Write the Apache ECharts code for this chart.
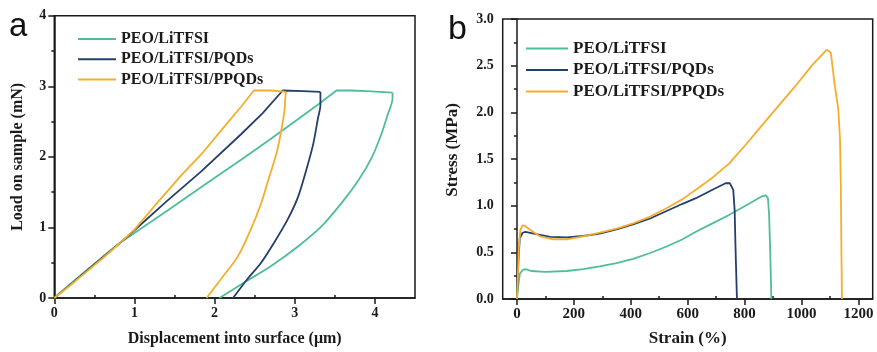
<!DOCTYPE html>
<html>
<head>
<meta charset="utf-8">
<script src="https://cdn.jsdelivr.net/npm/echarts@6/dist/echarts.min.js"></script>
<style>
html,body{margin:0;padding:0;background:#fff;}
#chart{width:877px;height:352px;}
</style>
</head>
<body>
<div id="chart"></div>
<script>
// ---------- DATA ----------
const seriesNames = ['PEO/LiTFSI', 'PEO/LiTFSI/PQDs', 'PEO/LiTFSI/PPQDs'];

// Panel a: load (mN) vs displacement (µm) — [x, y]; loading + hold, then unloading
const indentLiTFSILoad = [
  [0,0],[0.2,0.2],[0.4,0.39],[0.6,0.58],[0.78,0.75],[1.0,0.92],[1.4,1.23],[1.83,1.57],
  [2.33,1.96],[2.66,2.22],[3.0,2.5],[3.3,2.75],[3.52,2.94],
  [3.7,2.94],[3.9,2.93],[4.22,2.91]
];
const indentLiTFSIUnload = [
  [4.22,2.91],[4.22,2.83],[4.16,2.60],[4.08,2.32],[3.96,1.99],[3.79,1.66],[3.58,1.34],[3.33,1.01],
  [3.04,0.73],[2.70,0.45],[2.37,0.22],[2.06,0]
];
const indentPQDsLoad = [
  [0,0],[0.2,0.19],[0.4,0.38],[0.6,0.57],[0.8,0.76],[1.0,0.96],[1.4,1.37],[1.83,1.79],
  [2.33,2.32],[2.6,2.62],[2.85,2.94],
  [3.1,2.93],[3.32,2.92]
];
const indentPQDsUnload = [
  [3.32,2.92],[3.32,2.73],[3.29,2.55],[3.23,2.18],[3.14,1.80],[3.04,1.43],[2.91,1.11],[2.74,0.78],
  [2.58,0.50],[2.41,0.27],[2.23,0]
];
const indentPPQDsLoad = [
  [0,0],[0.2,0.18],[0.4,0.37],[0.6,0.56],[0.8,0.76],[1.0,0.97],[1.3,1.37],[1.6,1.76],
  [1.83,2.03],[2.1,2.4],[2.33,2.71],[2.49,2.94],
  [2.7,2.94],[2.89,2.92]
];
const indentPPQDsUnload = [
  [2.89,2.92],[2.88,2.80],[2.87,2.64],[2.83,2.36],[2.77,2.04],[2.68,1.71],[2.58,1.34],[2.45,0.97],
  [2.29,0.59],[2.08,0.27],[1.90,0]
];

// Panel b: stress (MPa) vs strain (%) — [x, y]
const tensileLiTFSI = [
  [0,0],[5,0.15],[10,0.27],[20,0.31],[30,0.32],[50,0.30],[100,0.29],[175,0.30],[233,0.32],
  [291,0.35],[350,0.385],[408,0.43],[466,0.49],[524,0.56],[582,0.64],[629,0.72],[687,0.81],
  [745,0.90],[803,1.0],[861,1.10],[875,1.11],[882,1.08],[886,0.9],[890,0.5],[894,0]
];
const tensilePQDs = [
  [0,0],[5,0.4],[10,0.65],[20,0.71],[30,0.72],[59,0.70],[117,0.665],[175,0.66],[233,0.675],
  [291,0.70],[350,0.745],[408,0.80],[466,0.86],[524,0.94],[582,1.02],[629,1.08],[687,1.17],
  [733,1.24],[748,1.24],[760,1.17],[765,0.95],[768,0.55],[773,0]
];
const tensilePPQDs = [
  [0,0],[4,0.3],[7,0.55],[12,0.74],[20,0.79],[30,0.78],[47,0.74],[82,0.67],[128,0.64],
  [175,0.64],[233,0.67],[291,0.71],[350,0.755],[408,0.81],[466,0.88],[524,0.97],[582,1.07],
  [629,1.17],[687,1.30],[745,1.45],[803,1.65],[861,1.86],[919,2.07],[978,2.28],[1036,2.50],
  [1088,2.67],[1103,2.64],[1117,2.28],[1129,2.04],[1135,1.72],[1138,1.23],[1140,0.53],[1142,0]
];

// Tick values
const aXTicks = [0, 1, 2, 3, 4];
const aXMinor = [0.5, 1.5, 2.5, 3.5];
const bXTicks = [0, 200, 400, 600, 800, 1000, 1200];
const bXMinor = [100, 300, 500, 700, 900, 1100];

// ---------- STYLE ----------
const colors = ['#4dbd9a', '#243f6c', '#f4ae2c'];
const serif = "'Liberation Serif','Times New Roman',serif";
const ink = '#1a1a1a';

function lineSeries(name, data, idx, color, smooth) {
  return {
    name, type: 'line', data, xAxisIndex: idx, yAxisIndex: idx,
    symbol: 'none', smooth: smooth, animation: false,
    lineStyle: { color, width: 1.8 }, itemStyle: { color }
  };
}

const axisLineStyle = { show: true, lineStyle: { color: ink, width: 1.5 } };

const option = {
  animation: false,
  backgroundColor: '#fff',
  grid: [
    { left: 54.3, top: 15.7, width: 360.7, height: 286.8, show: true, borderColor: ink, borderWidth: 1.5 },
    { left: 502.7, top: 19, width: 370, height: 284.3, show: true, borderColor: ink, borderWidth: 1.5 }
  ],
  graphic: [
    { type: 'text', left: 9, top: 10, style: { text: 'a', fontSize: 33, fontFamily: "'Liberation Sans',Arial,sans-serif", fill: '#111' } },
    { type: 'text', left: 448, top: 13, style: { text: 'b', fontSize: 34, fontFamily: "'Liberation Sans',Arial,sans-serif", fill: '#111' } }
  ],
  legend: [
    {
      data: seriesNames, orient: 'vertical', left: 78, top: 31, padding: 0,
      icon: 'rect', itemWidth: 38, itemHeight: 2, itemGap: 4.3,
      textStyle: { fontFamily: serif, fontWeight: 'bold', fontSize: 16, lineHeight: 16, color: ink }
    },
    {
      data: seriesNames, orient: 'vertical', left: 526, top: 40, padding: 0,
      icon: 'rect', itemWidth: 42, itemHeight: 2.2, itemGap: 4.5,
      textStyle: { fontFamily: serif, fontWeight: 'bold', fontSize: 17, lineHeight: 17, color: ink }
    }
  ],
  xAxis: [
    {
      gridIndex: 0, type: 'value', min: 0, max: 4.5,
      name: 'Displacement into surface (μm)', nameLocation: 'middle', nameGap: 33,
      nameTextStyle: { fontFamily: serif, fontWeight: 'bold', fontSize: 16, color: ink },
      axisLine: axisLineStyle,
      axisTick: { show: true, inside: false, length: 6, customValues: aXTicks, lineStyle: { color: ink, width: 1.5 } },
      axisLabel: { customValues: aXTicks, margin: 8, fontFamily: serif, fontWeight: 'bold', fontSize: 14, color: ink },
      splitLine: { show: false }
    },
    {
      gridIndex: 0, type: 'value', min: 0, max: 4.5,
      axisLine: { show: false },
      axisTick: { show: true, inside: false, length: 3, customValues: aXMinor, lineStyle: { color: ink, width: 1.5 } },
      axisLabel: { show: false }, splitLine: { show: false }
    },
    {
      gridIndex: 1, type: 'value', min: -50, max: 1250,
      name: 'Strain (%)', nameLocation: 'middle', nameGap: 31,
      nameTextStyle: { fontFamily: serif, fontWeight: 'bold', fontSize: 17, color: ink },
      axisLine: axisLineStyle,
      axisTick: { show: true, inside: false, length: 6, customValues: bXTicks, lineStyle: { color: ink, width: 1.5 } },
      axisLabel: { customValues: bXTicks, margin: 8, fontFamily: serif, fontWeight: 'bold', fontSize: 15, color: ink,
                   formatter: v => String(v) },
      splitLine: { show: false }
    },
    {
      gridIndex: 1, type: 'value', min: -50, max: 1250,
      axisLine: { show: false },
      axisTick: { show: true, inside: false, length: 3, customValues: bXMinor, lineStyle: { color: ink, width: 1.5 } },
      axisLabel: { show: false }, splitLine: { show: false }
    }
  ],
  yAxis: [
    {
      gridIndex: 0, type: 'value', min: 0, max: 4, interval: 1,
      name: 'Load on sample (mN)', nameLocation: 'middle', nameGap: 28,
      nameTextStyle: { fontFamily: serif, fontWeight: 'bold', fontSize: 16, color: ink },
      axisLine: axisLineStyle,
      axisTick: { show: true, inside: false, length: 6, lineStyle: { color: ink, width: 1.5 } },
      minorTick: { show: true, splitNumber: 2, length: 3, lineStyle: { color: ink, width: 1.5 } },
      axisLabel: { margin: 8, fontFamily: serif, fontWeight: 'bold', fontSize: 14, color: ink },
      splitLine: { show: false }, minorSplitLine: { show: false }
    },
    {
      gridIndex: 0, type: 'value', min: 0, max: 4, interval: 1, show: false
    },
    {
      gridIndex: 1, type: 'value', min: 0, max: 3, interval: 0.5,
      name: 'Stress (MPa)', nameLocation: 'middle', nameGap: 42,
      nameTextStyle: { fontFamily: serif, fontWeight: 'bold', fontSize: 17, color: ink, padding: [0, 0, 0, 18] },
      axisLine: axisLineStyle,
      axisTick: { show: true, inside: false, length: 6, lineStyle: { color: ink, width: 1.5 } },
      minorTick: { show: true, splitNumber: 2, length: 3, lineStyle: { color: ink, width: 1.5 } },
      axisLabel: { margin: 9, fontFamily: serif, fontWeight: 'bold', fontSize: 14, color: ink,
                   formatter: v => v.toFixed(1) },
      splitLine: { show: false }, minorSplitLine: { show: false }
    },
    {
      gridIndex: 1, type: 'value', min: 0, max: 3, interval: 0.5, show: false
    }
  ],
  series: [
    lineSeries(seriesNames[0], indentLiTFSILoad, 0, colors[0], false),
    lineSeries(seriesNames[0], indentLiTFSIUnload, 0, colors[0], 0.3),
    lineSeries(seriesNames[1], indentPQDsLoad, 0, colors[1], false),
    lineSeries(seriesNames[1], indentPQDsUnload, 0, colors[1], 0.3),
    lineSeries(seriesNames[2], indentPPQDsLoad, 0, colors[2], false),
    lineSeries(seriesNames[2], indentPPQDsUnload, 0, colors[2], 0.3),
    lineSeries(seriesNames[0], tensileLiTFSI, 2, colors[0], false),
    lineSeries(seriesNames[1], tensilePQDs, 2, colors[1], false),
    lineSeries(seriesNames[2], tensilePPQDs, 2, colors[2], false)
  ]
};

const chart = echarts.init(document.getElementById('chart'), null, { renderer: 'canvas' });
chart.setOption(option);
</script>
</body>
</html>
